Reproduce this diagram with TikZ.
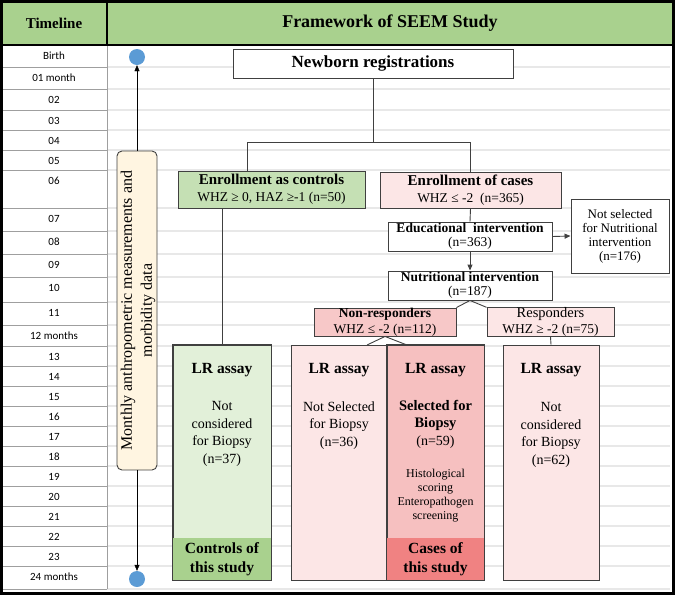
\documentclass[tikz,border=0pt]{standalone}
\usepackage{fontspec}
\setmainfont{Liberation Serif}
\newfontfamily\tlfont{Carlito}
\usetikzlibrary{positioning,arrows.meta}

\definecolor{hdrgreen}{RGB}{169,209,142}
\definecolor{ctrlgreen}{RGB}{197,224,180}
\definecolor{palegreen}{RGB}{226,240,217}
\definecolor{palepink}{RGB}{252,230,230}
\definecolor{midpink}{RGB}{247,200,200}
\definecolor{selpink}{RGB}{246,192,192}
\definecolor{casered}{RGB}{240,130,130}
\definecolor{cream}{RGB}{255,245,225}
\definecolor{dotblue}{RGB}{91,155,213}
\definecolor{boxgray}{RGB}{64,64,64}

\newcommand{\fsz}[2]{\fontsize{#1}{#2}\selectfont}

\begin{document}
\begin{tikzpicture}
[x=1pt,y=-1pt,every node/.style={inner sep=0pt,align=center},
 box/.style={draw=boxgray,line width=0.9pt,rectangle},
 tllabel/.style={font=\tlfont\fsz{11}{13}},
 tlline/.style={draw=gray!75,line width=1pt},
 gridline/.style={draw=gray!18,line width=1.2pt},
 dot/.style={circle,fill=dotblue,minimum size=16pt},
 lrtext/.style={font=\fsz{14}{17.5}},
 lrhead/.style={font=\bfseries\fsz{15.5}{19}},
 tip/.style={-{Triangle[length=6pt,width=5pt]}}]
\useasboundingbox (0,0) rectangle (675,595);

% header and timeline column
\fill[hdrgreen] (0,0) rectangle (675,45);
\node[font=\bfseries\fsz{15}{17}] (hdrA) at (54,23) {Timeline};
\node[font=\bfseries\fsz{18}{20}] (hdrB) at (390,23) {Framework of SEEM Study};
\foreach \y in {67,89,110,130,150,170,208,231,254,277,302,325,346,366,386,406,426,446,466,486,506,526,546,566,589}
{\draw[gridline] (107,\y) -- (670,\y);
 \draw[tlline] (0,\y) -- (107,\y);}
\draw[tlline] (107,45) -- (107,589);
\foreach \lab/\ya [count=\i] in {Birth/45,01 month/67,02/89,03/110,04/130,05/150,06/170,07/208,08/231,09/254,10/277,11/302,12 months/325,13/346,14/366,15/386,16/406,17/426,18/446,19/466,20/486,21/506,22/526,23/546,24 months/566}
\node[tllabel] (tl\i) at (54,\ya+10.5) {\lab};
\draw[line width=2.5pt] (0,45) -- (675,45);
\draw[line width=2.5pt] (107,0) -- (107,45);
\draw[line width=3pt] (1.5,1.5) rectangle (673.5,593.5);

% timeline arrow
\node[dot] (birth) at (137,57) {};
\node[dot] (end) at (137,579) {};
\node[box,fill=cream,rounded corners=5pt,minimum width=40pt,minimum height=319pt] (monthly) at (137,310.5) {};
\node[rotate=90,font=\fsz{16}{20}] (monthlyT) at (138,310.5) {Monthly anthropometric measurements and\\ morbidity data};
\draw[tip] (monthly.north) -- (birth);
\draw[tip] (monthly.south) -- (end);

% flow boxes
\node[box,fill=white,minimum width=280pt,minimum height=29pt,font=\bfseries\fsz{17}{19}] (newborn) at (373,63.5) {Newborn registrations};
\node[box,fill=ctrlgreen,minimum width=187pt,minimum height=37pt,font=\fsz{13.5}{17}] (ctrl) at (271.5,189.5) {\fsz{15}{17}\textbf{Enrollment as controls}\\ WHZ ≥ 0, HAZ ≥-1 (n=50)};
\node[box,fill=palepink,minimum width=181pt,minimum height=36pt,font=\fsz{13.5}{17}] (cases) at (470.5,190) {\fsz{15}{17}\textbf{Enrollment of cases}\\ WHZ ≤ -2\ \ (n=365)};
\node[box,fill=white,minimum width=164pt,minimum height=29pt,font=\fsz{13.5}{14}] (educ) at (470,236.5) {\textbf{Educational\ \ intervention}\\ (n=363)};
\node[box,fill=white,minimum width=98pt,minimum height=74pt,font=\fsz{13}{14}] (notsel) at (620,236) {Not selected\\ for Nutritional\\ intervention\\ (n=176)};
\node[box,fill=white,minimum width=164pt,minimum height=29pt,font=\fsz{13.5}{14}] (nutri) at (470,285.5) {\textbf{Nutritional intervention}\\ (n=187)};
\node[box,fill=midpink,minimum width=142pt,minimum height=28pt,font=\fsz{13.5}{15.5}] (nonresp) at (385,322) {\textbf{Non-responders}\\ WHZ ≤ -2 (n=112)};
\node[box,fill=palepink,minimum width=127pt,minimum height=28pt,font=\fsz{13.5}{15.5}] (resp) at (550.5,322) {\fsz{14.5}{15.5}Responders\\ WHZ ≥ -2 (n=75)};

% LR assay columns
\node[box,fill=palegreen,minimum width=98pt,minimum height=235pt] (lrctrl) at (222,462.5) {};
\node[box,fill=palepink,minimum width=96pt,minimum height=235pt] (lrnot) at (339,462.5) {};
\node[box,fill=selpink,minimum width=97pt,minimum height=235pt] (lrsel) at (435.5,462.5) {};
\node[box,fill=palepink,minimum width=96pt,minimum height=235pt] (lrresp) at (551,462.5) {};
\fill[hdrgreen] ([shift={(0.45pt,42pt)}]lrctrl.south west) rectangle ([shift={(-0.45pt,0.45pt)}]lrctrl.south east);
\fill[casered] ([shift={(0.45pt,42pt)}]lrsel.south west) rectangle ([shift={(-0.45pt,0.45pt)}]lrsel.south east);
\draw[boxgray,line width=0.9pt] (lrctrl.north west) rectangle (lrctrl.south east);
\draw[boxgray,line width=0.9pt] (lrsel.north west) rectangle (lrsel.south east);

\node[lrhead] (ctrlA) at (222,370) {LR assay};
\node[lrtext] (ctrlB) at (222,434) {Not\\ considered\\ for Biopsy\\ (n=37)};
\node[lrhead] (ctrlC) at (222,559) {Controls of\\ this study};
\node[lrhead] (notA) at (339,370) {LR assay};
\node[lrtext] (notB) at (339,425.5) {Not Selected\\ for Biopsy\\ (n=36)};
\node[lrhead] (selA) at (435.5,370) {LR assay};
\node[lrtext] (selB) at (435.5,424) {\fsz{14.5}{17.5}\textbf{Selected for}\\ \fsz{14.5}{17.5}\textbf{Biopsy}\\ (n=59)};
\node[font=\fsz{12}{14}] (selC) at (435.5,496) {Histological\\ scoring\\ Enteropathogen\\ screening};
\node[lrhead] (selD) at (435.5,559) {Cases of\\ this study};
\node[lrhead] (respA) at (551,370) {LR assay};
\node[lrtext] (respB) at (551,435) {Not\\ considered\\ for Biopsy\\ (n=62)};

% connectors
\coordinate (jl) at (247,142);
\coordinate (jr) at (470.5,142);
\coordinate (nl) at (367,345);
\coordinate (nr) at (407,345);
\draw[boxgray,line width=0.9pt] (newborn.south) -- (newborn.south |- jl);
\draw[boxgray,line width=0.9pt] (ctrl.north -| jl) -- (jl) -- (jr) -- (cases.north);
\draw[boxgray,line width=0.9pt] (ctrl.south -| lrctrl.north) -- (lrctrl.north);
\foreach \from/\to in {cases.south/educ.north,nutri.south/nonresp.north east,nutri.south/resp.north west,nonresp.south/nl,nonresp.south/nr,resp.south/lrresp.north}
\draw[boxgray,line width=0.9pt] (\from) -- (\to);
\draw[tip,boxgray,line width=0.9pt] (educ.east) -- (notsel.west);
\draw[tip,boxgray,line width=0.9pt] (educ.south) -- (nutri.north);
\end{tikzpicture}
\end{document}
